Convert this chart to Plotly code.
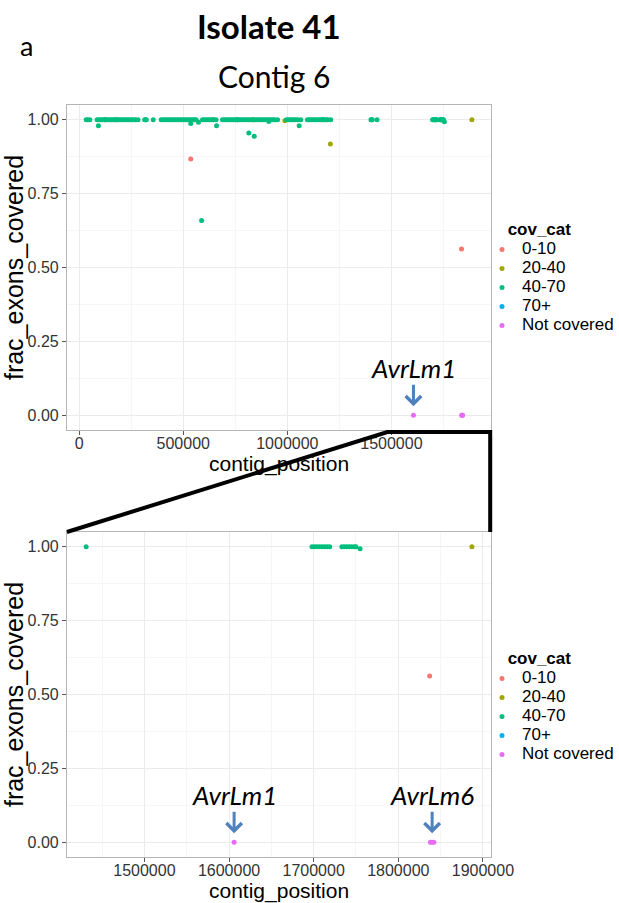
import plotly.graph_objects as go

# ---------------- data ----------------
categories = ["0-10", "20-40", "40-70", "70+", "Not covered"]
cat_colors = ["#F8766D", "#A3A500", "#00BF7D", "#00B0F6", "#E76BF3"]

pos_0_10 = [536000, 1837000]
frac_0_10 = [0.867, 0.563]

pos_20_40 = [645000, 835000, 988000, 1207000, 1887000]
frac_20_40 = [1.00, 1.00, 0.997, 0.918, 1.00]

pos_40_70 = [
    33500, 41000, 51000,
    86000, 95000, 104000, 113000, 121000, 130000, 139000, 148000, 157000, 166000,
    174000, 183000, 192000, 201000, 209000, 218000, 227000, 236000, 245000, 254000,
    262000, 271000, 282500,
    314600, 322300, 355800,
    394000, 403000, 412000, 421000, 430000, 439000, 448000, 457000, 466000, 475000,
    484000, 493000, 502000, 511000, 520000, 529000, 538000, 547000, 554000, 561800,
    592400, 601000, 610000, 619000, 628000, 637000, 646000, 657500,
    688200, 697000, 706000, 715000, 724000, 733000, 742000, 751000, 760000, 769000,
    778000, 787000, 796000, 805000, 814000, 823000, 832000, 841000, 850000, 859000,
    868000, 877000, 886000, 895000, 904000, 913000, 922000, 931000, 940000, 953000,
    996000, 1005000, 1014000, 1023000, 1032000, 1041000, 1050000, 1064600,
    1096700, 1105000, 1114000, 1123000, 1132000, 1141000, 1150000, 1159000, 1168000,
    1177000, 1186000, 1195000, 1208300,
    1402000, 1405000, 1408000, 1431200,
    1698000, 1701000, 1704000, 1707000, 1710000, 1713000, 1716000, 1719000,
    1733300, 1736000, 1739000, 1742000, 1745000, 1748000, 1750000,
    92400, 536000, 573000, 588000, 660000, 815000, 841000, 911000, 1057000, 1754800,
]
frac_40_70 = [
    1.0, 1.0, 1.0,
    1.0, 1.0, 1.0, 1.0, 1.0, 1.0, 1.0, 1.0, 1.0, 1.0,
    1.0, 1.0, 1.0, 1.0, 1.0, 1.0, 1.0, 1.0, 1.0, 1.0,
    1.0, 1.0, 1.0,
    1.0, 1.0, 1.0,
    1.0, 1.0, 1.0, 1.0, 1.0, 1.0, 1.0, 1.0, 1.0, 1.0,
    1.0, 1.0, 1.0, 1.0, 1.0, 1.0, 1.0, 1.0, 1.0, 1.0,
    1.0, 1.0, 1.0, 1.0, 1.0, 1.0, 1.0, 1.0,
    1.0, 1.0, 1.0, 1.0, 1.0, 1.0, 1.0, 1.0, 1.0, 1.0,
    1.0, 1.0, 1.0, 1.0, 1.0, 1.0, 1.0, 1.0, 1.0, 1.0,
    1.0, 1.0, 1.0, 1.0, 1.0, 1.0, 1.0, 1.0, 1.0, 1.0,
    1.0, 1.0, 1.0, 1.0, 1.0, 1.0, 1.0, 1.0,
    1.0, 1.0, 1.0, 1.0, 1.0, 1.0, 1.0, 1.0, 1.0,
    1.0, 1.0, 1.0, 1.0,
    1.0, 1.0, 1.0, 1.0,
    1.0, 1.0, 1.0, 1.0, 1.0, 1.0, 1.0, 1.0,
    1.0, 1.0, 1.0, 1.0, 1.0, 1.0, 1.0,
    0.98, 0.987, 0.992, 0.659, 0.98, 0.955, 0.944, 0.994, 0.98, 0.993,
]

pos_70_plus = [125000, 175000, 318000, 760000, 1170000]
frac_70_plus = [1.0, 1.0, 1.0, 1.0, 1.0]

pos_not_covered = [1606000, 1838000, 1840000, 1842000]
frac_not_covered = [0.0, 0.0, 0.0, 0.0]

series_pos = [pos_0_10, pos_20_40, pos_40_70, pos_70_plus, pos_not_covered]
series_frac = [frac_0_10, frac_20_40, frac_40_70, frac_70_plus, frac_not_covered]

zoom_window_start = 1420000   # genes shown in the lower (zoomed) panel

genes = ["AvrLm1", "AvrLm6"]
gene_pos = [1606000, 1840000]

top_xticks = [0, 500000, 1000000, 1500000]
top_xminor = [250000, 750000, 1250000, 1750000]
bot_xticks = [1500000, 1600000, 1700000, 1800000, 1900000]
bot_xminor = [1450000, 1550000, 1650000, 1750000, 1850000]
yticks = [0.0, 0.25, 0.50, 0.75, 1.00]
yminor = [0.125, 0.375, 0.625, 0.875]

# ---------------- layout helpers ----------------
W, H = 619, 903
def px(x):
    return x / W
def py(y):
    return 1 - y / H

SANS = "Liberation Sans, Arial, sans-serif"
TICKFONT = dict(family=SANS, size=16, color="#333333")
XTITLEFONT = dict(family=SANS, size=21, color="#000000")
YTITLEFONT = dict(family=SANS, size=25, color="#000000")

def pad_range(vals):
    lo, hi = min(vals), max(vals)
    d = (hi - lo) * 0.05
    return [lo - d, hi + d]

fig = go.Figure()

# draw order: put 70+ below 40-70
draw_order = [3, 0, 1, 2, 4]
for panel in ("top", "bottom"):
    for i in draw_order:
        xs, ys = series_pos[i], series_frac[i]
        if panel == "bottom":
            sel = [(a, b) for a, b in zip(xs, ys) if a >= zoom_window_start]
            xs = [a for a, _ in sel] or [None]
            ys = [b for _, b in sel] or [None]
        fig.add_trace(go.Scatter(
            x=xs, y=ys, mode="markers",
            name=f'<span style="font-size:17px">{categories[i]}</span>',
            marker=dict(color=cat_colors[i], size=5, line=dict(width=0)),
            xaxis="x" if panel == "top" else "x2",
            yaxis="y" if panel == "top" else "y2",
            legend="legend" if panel == "top" else "legend2",
            legendrank=i + 1,
            showlegend=True,
            cliponaxis=True,
        ))

all_pos = [p for s in series_pos for p in s]
bot_pos = [p for p in all_pos if p >= zoom_window_start]

def xaxis_style(domain, rng, ticks, minor, anchor):
    return dict(
        domain=domain, range=rng, anchor=anchor,
        tickmode="array", tickvals=ticks, ticktext=[str(t) for t in ticks],
        ticks="outside", ticklen=4, tickwidth=1, tickcolor="#555555",
        tickfont=TICKFONT, ticklabelstandoff=-5,
        showgrid=True, gridcolor="#ebebeb", gridwidth=1,
        minor=dict(tickvals=minor, showgrid=True, gridcolor="#f6f6f6", gridwidth=1, ticks=""),
        showline=True, linecolor="#b5b5b5", linewidth=1, mirror=True,
        zeroline=False, automargin=False,
        title=dict(text="contig_position", font=XTITLEFONT, standoff=0),
    )

def yaxis_style(domain, anchor):
    return dict(
        domain=domain, range=[-0.05, 1.05], anchor=anchor,
        tickmode="array", tickvals=yticks, ticktext=[f"{t:.2f}" for t in yticks],
        ticks="outside", ticklen=4, tickwidth=1, tickcolor="#555555",
        tickfont=TICKFONT,
        showgrid=True, gridcolor="#ebebeb", gridwidth=1,
        minor=dict(tickvals=yminor, showgrid=True, gridcolor="#f6f6f6", gridwidth=1, ticks=""),
        showline=True, linecolor="#b5b5b5", linewidth=1, mirror=True,
        zeroline=False, automargin=False,
        title=dict(text="frac_exons_covered", font=YTITLEFONT, standoff=0),
    )

def legend_style(top_px):
    return dict(
        x=px(483), xanchor="left", y=py(top_px), yanchor="top",
        bgcolor="rgba(0,0,0,0)", tracegroupgap=0,
        font=dict(family=SANS, size=12, color="#000"),
        title=dict(text="&nbsp;&nbsp;&nbsp;&nbsp;&nbsp;<b>cov_cat</b>",
                   font=dict(family=SANS, size=17, color="#000")),
    )

xdom = [px(67), px(492)]
fig.update_layout(
    width=W, height=H,
    margin=dict(l=0, r=0, t=0, b=0),
    paper_bgcolor="white", plot_bgcolor="white",
    xaxis=xaxis_style(xdom, pad_range(all_pos), top_xticks, top_xminor, "y"),
    yaxis=yaxis_style([py(430), py(105)], "x"),
    xaxis2=xaxis_style(xdom, pad_range(bot_pos), bot_xticks, bot_xminor, "y2"),
    yaxis2=yaxis_style([py(857), py(532)], "x2"),
    legend=legend_style(213),
    legend2=legend_style(642),
    showlegend=True,
)

# titles
HEADFONT = "Lato, Open Sans, sans-serif"
fig.add_annotation(text="<b>Isolate 41</b>", xref="paper", yref="paper", x=px(269), y=py(26),
                   xanchor="center", yanchor="middle", showarrow=False,
                   font=dict(family=HEADFONT, size=33, color="#000"))
fig.add_annotation(text="a", xref="paper", yref="paper", x=px(27), y=py(46),
                   xanchor="center", yanchor="middle", showarrow=False,
                   font=dict(family=HEADFONT, size=27, color="#000"))
fig.add_annotation(text="Contig 6", xref="paper", yref="paper", x=px(274), y=py(76),
                   xanchor="center", yanchor="middle", showarrow=False,
                   font=dict(family=HEADFONT, size=30, color="#000"))

# gene labels and arrows
ARROW_COLOR = "#4F81BD"
def gene_mark(name, pos, xr, yr):
    fig.add_annotation(text=f"<i>{name}</i>", xref=xr, yref=yr, x=pos, y=0, yshift=47,
                       xanchor="center", yanchor="middle", showarrow=False,
                       font=dict(family=HEADFONT, size=26, color="#000"))
    fig.add_annotation(text="", xref=xr, yref=yr, x=pos, y=0, yshift=9,
                       ax=0, ay=-23, showarrow=True, arrowhead=4, arrowsize=1,
                       arrowwidth=3, arrowcolor=ARROW_COLOR)

gene_mark(genes[0], gene_pos[0], "x", "y")
gene_mark(genes[0], gene_pos[0], "x2", "y2")
gene_mark(genes[1], gene_pos[1], "x2", "y2")

# zoom connector lines
fig.add_shape(type="path", xref="paper", yref="paper",
              path=f"M {px(67)},{py(532)} L {px(388)},{py(432)} L {px(491)},{py(432)} L {px(491)},{py(532)}",
              line=dict(color="black", width=4), layer="above")

fig.write_html("out.html",
               config={"displayModeBar": False},
               post_script="document.body.style.margin='0';document.body.style.padding='0';document.body.style.overflow='hidden';")
